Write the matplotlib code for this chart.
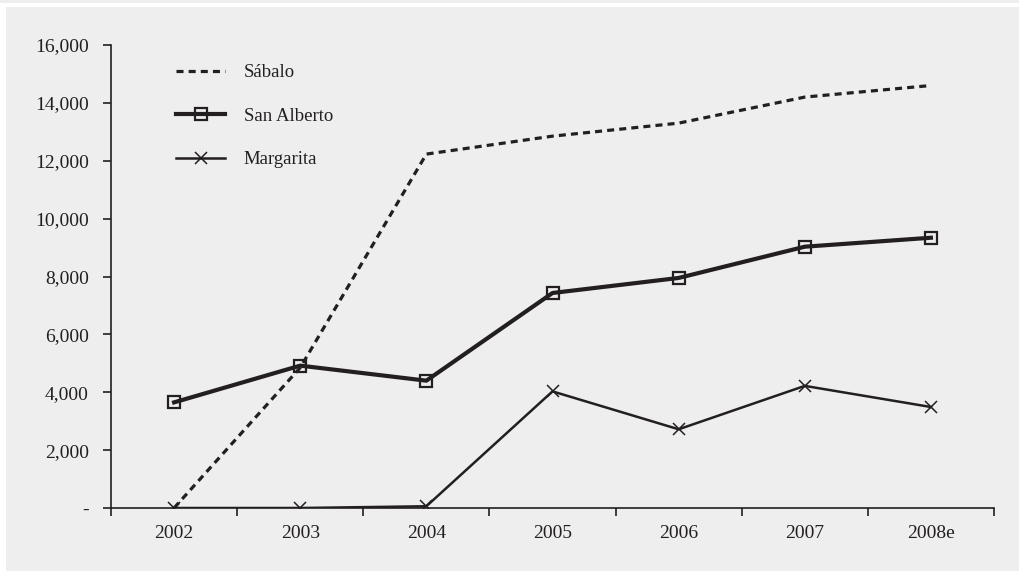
import matplotlib
matplotlib.use("Agg")
import matplotlib.pyplot as plt
from matplotlib.patches import Rectangle
from matplotlib.ticker import FuncFormatter

years = ["2002", "2003", "2004", "2005", "2006", "2007", "2008e"]
sabalo = [0, 4850, 12230, 12850, 13300, 14200, 14600]
san_alberto = [3650, 4920, 4400, 7430, 7950, 9030, 9340]
margarita = [0, 0, 60, 4030, 2720, 4220, 3490]

INK = "#231f20"
BG = "#eeeeee"

plt.rcParams['font.family'] = ['Liberation Serif', 'DejaVu Serif']

fig = plt.figure(figsize=(10.19, 5.71), dpi=100, facecolor=BG)
# thin white strips seen at the top and left edge of the original
fig.patches.append(Rectangle((0, 1 - 7 / 571), 1, 4 / 571, transform=fig.transFigure,
                             facecolor="white", edgecolor="none"))
fig.patches.append(Rectangle((0, 0), 6 / 1019, 1 - 7 / 571, transform=fig.transFigure,
                             facecolor="white", edgecolor="none"))

ax = fig.add_axes([111 / 1019, 63 / 571, 883 / 1019, 463 / 571])
ax.set_facecolor(BG)

x = list(range(len(years)))
ax.plot(x, sabalo, color=INK, lw=2.3, linestyle=(0, (2.2, 1.6)), label="Sábalo")
ax.plot(x, san_alberto, color=INK, lw=3.0, marker="s", markersize=9,
        markerfacecolor="none", markeredgecolor=INK, markeredgewidth=1.6, label="San Alberto")
ax.plot(x, margarita, color=INK, lw=1.8, marker="x", markersize=8,
        markeredgewidth=1.1, label="Margarita")

ax.set_xlim(-0.5, len(years) - 0.5)
ax.set_ylim(0, 16000)
ax.set_yticks(range(0, 16001, 2000))
ax.yaxis.set_major_formatter(FuncFormatter(lambda v, p: "-" if v == 0 else f"{v:,.0f}"))

# category boundaries carry the ticks, labels sit at centres
ax.set_xticks([i - 0.5 for i in range(len(years) + 1)])
ax.set_xticklabels([])
ax.set_xticks(x, minor=True)
ax.set_xticklabels(years, minor=True)
ax.tick_params(axis="x", which="major", length=6, width=1.2, color=INK, direction="out")
ax.tick_params(axis="x", which="minor", length=0, pad=12, labelsize=14, labelcolor=INK)
ax.tick_params(axis="y", length=6, width=1.2, color=INK, pad=10, labelsize=14, labelcolor=INK)

for side in ("top", "right"):
    ax.spines[side].set_visible(False)
for side in ("left", "bottom"):
    ax.spines[side].set_color(INK)
    ax.spines[side].set_linewidth(1.2)

ax.legend(loc="upper left", bbox_to_anchor=(0.055, 0.995), frameon=False, fontsize=13.5,
          handlelength=2.6, handletextpad=1.0, labelspacing=1.4, labelcolor=INK)

fig.savefig("out.png", dpi=100, facecolor=BG)
